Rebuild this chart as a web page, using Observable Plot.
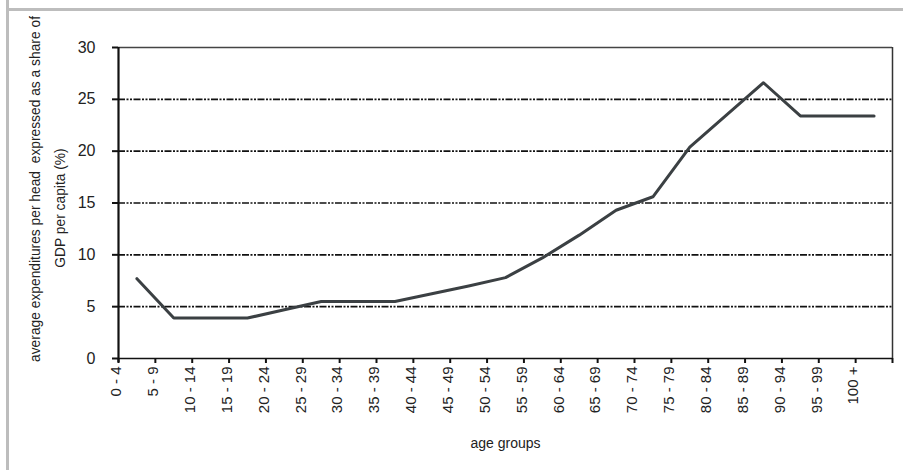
<!DOCTYPE html>
<html>
<head>
<meta charset="utf-8">
<script src="https://cdn.jsdelivr.net/npm/d3@7"></script>
<script src="https://cdn.jsdelivr.net/npm/@observablehq/plot@0.6"></script>
<style>
  html, body { margin: 0; padding: 0; background: #fff; }
  #wrap { position: relative; width: 903px; height: 471px; overflow: hidden; }
  #vbar { position: absolute; left: 6px; top: 0; width: 3px; height: 470px; background: #bdbdbd; }
  #hbar { position: absolute; left: 6px; top: 8px; width: 897px; height: 3px; background: #bdbdbd; }
  #chart { position: absolute; left: 0; top: 0; }
</style>
</head>
<body>
<div id="wrap">
  <div id="chart"></div>
  <div id="vbar"></div>
  <div id="hbar"></div>
</div>
<script>
const ageGroups = ["0 - 4","5 - 9","10 - 14","15 - 19","20 - 24","25 - 29","30 - 34","35 - 39","40 - 44","45 - 49","50 - 54","55 - 59","60 - 64","65 - 69","70 - 74","75 - 79","80 - 84","85 - 89","90 - 94","95 - 99","100 +"];
const expenditureShare = [7.7, 3.9, 3.9, 3.9, 4.7, 5.5, 5.5, 5.5, 6.25, 7.0, 7.8, 9.7, 11.9, 14.3, 15.6, 20.4, 23.5, 26.6, 23.4, 23.4, 23.4];
const yTicks = [0, 5, 10, 15, 20, 25, 30];
const gridValues = [5, 10, 15, 20, 25];
const yTitle1 = ["average expenditures per head  expressed as a share of"];
const yTitle2 = ["GDP per capita (%)"];
const xTitle = ["age groups"];

const narrow = "'Liberation Sans Narrow', 'Arial Narrow', 'Liberation Sans', Arial, sans-serif";
const sans = "'Liberation Sans', Arial, sans-serif";
const n = ageGroups.length;

const chart = Plot.plot({
  width: 903,
  height: 471,
  marginLeft: 118,
  marginRight: 11,
  marginTop: 47,
  marginBottom: 113,
  style: { fontFamily: sans, color: "#222", background: "transparent" },
  x: { domain: [0, n], axis: null },
  y: { domain: [0, 30], axis: null },
  marks: [
    Plot.ruleY(gridValues, { stroke: "#111", strokeWidth: 1.6, strokeDasharray: "7,1.5,2,1.5,2,1.5" }),
    Plot.ruleY([30], { stroke: "#444", strokeWidth: 1.3 }),
    Plot.ruleX([n], { stroke: "#333", strokeWidth: 1.5 }),
    Plot.axisY({ ticks: yTicks, tickSize: 6, tickPadding: 17, fontSize: 16, fontFamily: narrow, stroke: "#111", strokeWidth: 2, label: null }),
    Plot.ruleX([0], { y1: -0.4, y2: 30, stroke: "#111", strokeWidth: 2.2 }),
    Plot.ruleY([0], { stroke: "#111", strokeWidth: 1.5 }),
    Plot.axisX({ ticks: d3.range(n + 1), tickSize: 5, tickFormat: () => "", stroke: "#111", strokeWidth: 2, label: null }),
    Plot.text(ageGroups, { x: (d, i) => i, y: 0, dy: 8, dx: -2, rotate: -90, textAnchor: "end", fontSize: 15, fontFamily: narrow, fill: "#222" }),
    Plot.line(expenditureShare, { x: (d, i) => i + 0.5, y: d => d, stroke: "#3b4043", strokeWidth: 3 }),
    Plot.text(xTitle, { frameAnchor: "bottom", dy: 89, fontSize: 14, fill: "#222" }),
    Plot.text(yTitle1, { frameAnchor: "left", textAnchor: "middle", dx: -83, dy: -14, rotate: -90, fontSize: 13.8, fill: "#222" }),
    Plot.text(yTitle2, { frameAnchor: "left", textAnchor: "middle", dx: -58, dy: 5, rotate: -90, fontSize: 13.8, fill: "#222" })
  ]
});
document.getElementById("chart").appendChild(chart);
</script>
</body>
</html>
